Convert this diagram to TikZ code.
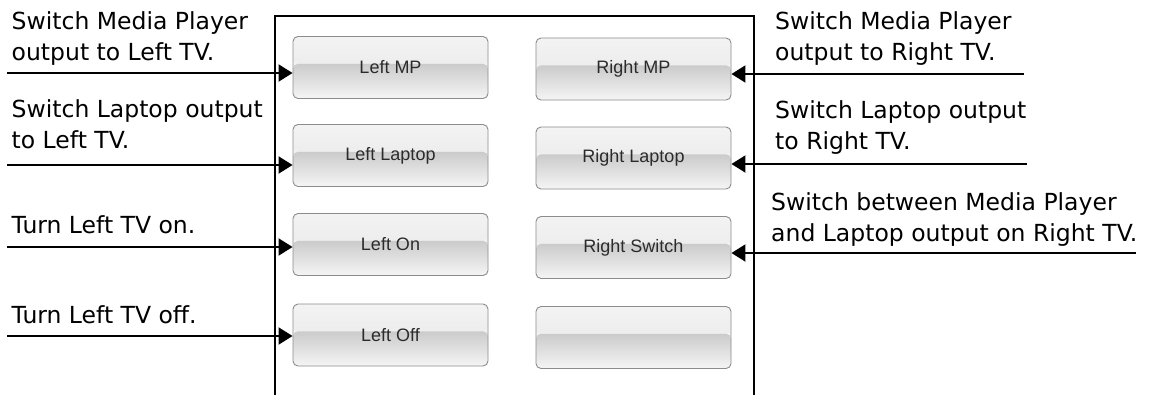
\documentclass[tikz,border=0pt]{standalone}
\usepackage{fontspec}
\setmainfont{DejaVu Sans}
\newfontfamily\btnfont{Liberation Sans}
\usetikzlibrary{arrows.meta,calc}
\definecolor{btntxt}{HTML}{2B2B2B}
\definecolor{btnborder}{HTML}{8C8C8C}
\definecolor{bandtop}{HTML}{F3F3F3}
\definecolor{bandbot}{HTML}{E6E6E6}
\definecolor{lowtop}{HTML}{CBCBCB}
\definecolor{lowbot}{HTML}{F5F5F5}
\tikzset{
  btn/.style={draw=btnborder, fill=bandtop, line width=0.9pt, rounded corners=5pt,
    minimum width=195pt, minimum height=62pt, inner sep=0pt,
    font=\btnfont\fontsize{18}{20}\selectfont, text=btntxt,
    path picture={
      \fill[top color=bandtop, bottom color=bandbot]
        (path picture bounding box.north west)
        rectangle ($(path picture bounding box.north east)!0.44!(path picture bounding box.south east)$);
      \fill[top color=lowtop, bottom color=lowbot]
        ($(path picture bounding box.north west)!0.44!(path picture bounding box.south west)$)
        rectangle (path picture bounding box.south east);
    }},
  lbl/.style={font=\fontsize{23.5}{31}\selectfont, align=left, inner sep=0pt, text=black},
  arr/.style={line width=2pt, -{Triangle[length=14pt,width=17pt]}},
  frame/.style={line width=2pt}
}
\begin{document}
\begin{tikzpicture}[x=1pt,y=-1pt]
\useasboundingbox (0,0) rectangle (1153,394);
% frame
\coordinate (fbl) at (275,396);
\coordinate (ftl) at (275,16);
\coordinate (ftr) at (754,16);
\coordinate (fbr) at (754,396);
\draw[frame] (fbl) -- (ftl) -- (ftr) -- (fbr);
% buttons
\node[btn] (LMP) at (390.5,67.5) {Left MP};
\node[btn] (LLap) at (390.5,155.5) {Left Laptop};
\node[btn] (LOn) at (390.5,244.5) {Left On};
\node[btn] (LOff) at (390.5,335) {Left Off};
\node[btn] (RMP) at (633.5,69) {Right MP};
\node[btn] (RLap) at (633.5,158) {Right Laptop};
\node[btn] (RSw) at (633.5,247.5) {Right Switch};
\node[btn] (RBl) at (633.5,337.5) {};
% labels (base anchor = baseline of last line)
\node[lbl, anchor=base west] (t1) at (11.5,60) {Switch Media Player\\output to Left TV.};
\node[lbl, anchor=base west] (t2) at (11.5,148.5) {Switch Laptop output\\to Left TV.};
\node[lbl, anchor=base west] (t3) at (11.5,233) {Turn Left TV on.};
\node[lbl, anchor=base west] (t4) at (11.5,323) {Turn Left TV off.};
\node[lbl, anchor=base west] (t5) at (775,60.5) {Switch Media Player\\output to Right TV.};
\node[lbl, anchor=base west] (t6) at (775,149) {Switch Laptop output\\to Right TV.};
\node[lbl, anchor=base west] (t7) at (771,241) {Switch between Media Player\\and Laptop output on Right TV.};
% arrow start points
\coordinate (a1) at (7,73);
\coordinate (a2) at (7,165);
\coordinate (a3) at (7,247);
\coordinate (a4) at (7,336);
\coordinate (b1) at (1024,74);
\coordinate (b2) at (1027,164);
\coordinate (b3) at (1136,253);
\draw[arr] (a1) -- (a1 -| LMP.west);
\draw[arr] (a2) -- (a2 -| LLap.west);
\draw[arr] (a3) -- (a3 -| LOn.west);
\draw[arr] (a4) -- (a4 -| LOff.west);
\draw[arr] (b1) -- (b1 -| RMP.east);
\draw[arr] (b2) -- (b2 -| RLap.east);
\draw[arr] (b3) -- (b3 -| RSw.east);
\end{tikzpicture}
\end{document}
